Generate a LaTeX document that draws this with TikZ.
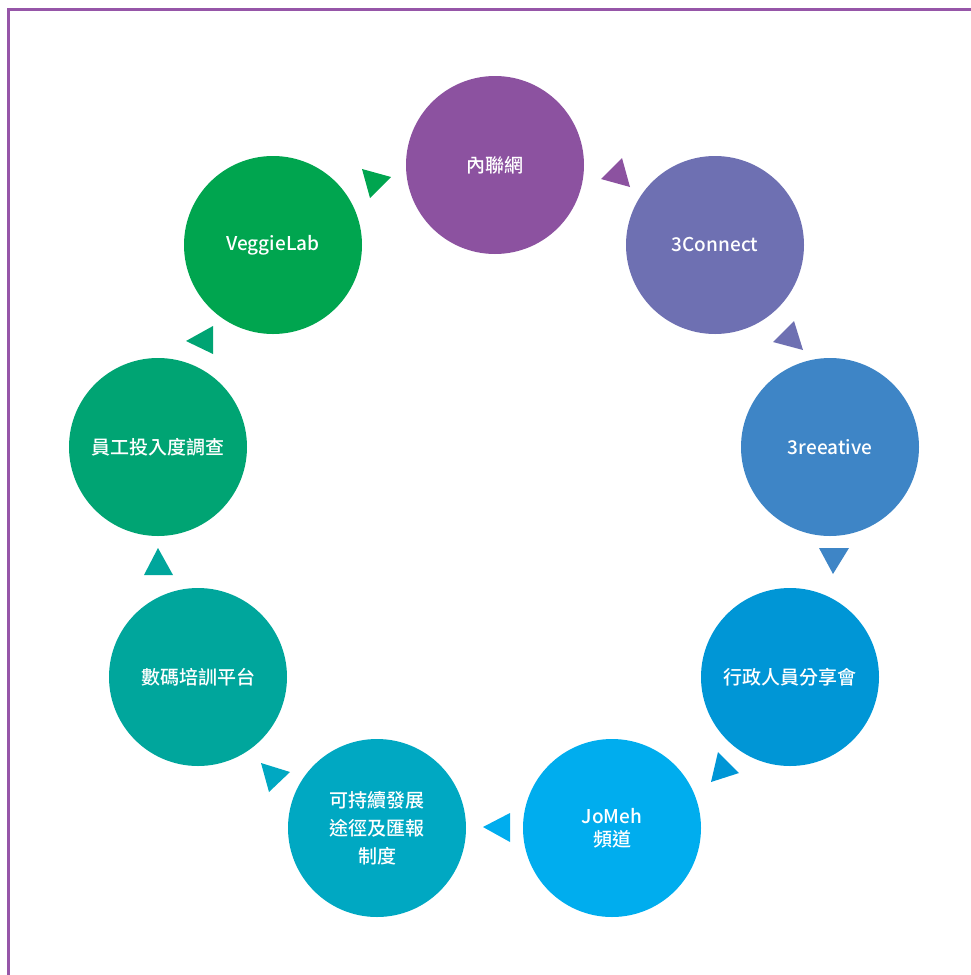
\documentclass[tikz,border=0pt]{standalone}
\usepackage{fontspec}
\setmainfont{Noto Sans CJK TC}[UprightFont={* Medium}]
\definecolor{frame}{HTML}{9656A8}
\definecolor{c1}{HTML}{8C52A0}
\definecolor{c2}{HTML}{6E70B2}
\definecolor{c3}{HTML}{3E85C6}
\definecolor{c4}{HTML}{0096D6}
\definecolor{c5}{HTML}{00ADEE}
\definecolor{c6}{HTML}{00A8C2}
\definecolor{c7}{HTML}{00A69C}
\definecolor{c8}{HTML}{00A473}
\definecolor{c9}{HTML}{00A54F}
\begin{document}
\begin{tikzpicture}[x=1pt,y=-1pt,
  stage/.style={circle, minimum size=178pt, inner sep=0pt, text=white,
    font=\fontsize{19}{28}\selectfont, align=center}]
\useasboundingbox (0,0) rectangle (971,975);
\draw[line width=3pt, color=frame] (8.5,990) -- (8.5,9.5) -- (990,9.5);

\node[stage, fill=c1] (n1) at (495,165) {內聯網};
\node[stage, fill=c2] (n2) at (715,245) {3Connect};
\node[stage, fill=c3] (n3) at (830,447) {3reeative};
\node[stage, fill=c4] (n4) at (790,677) {行政人員分享會};
\node[stage, fill=c5, font=\fontsize{19}{23}\selectfont] (n5) at (612,828) {JoMeh\\頻道};
\node[stage, fill=c6] (n6) at (377,828) {可持續發展\\途徑及匯報\\制度};
\node[stage, fill=c7] (n7) at (198,677) {數碼培訓平台};
\node[stage, fill=c8] (n8) at (158,447) {員工投入度調查};
\node[stage, fill=c9] (n9) at (273,245) {VeggieLab};

\fill[c1] (601,179) -- (622,158) -- (630,187) -- cycle;
\fill[c2] (773,342) -- (794,321) -- (803,350) -- cycle;
\fill[c3] (819,548) -- (849,548) -- (833,574) -- cycle;
\fill[c4] (718,752) -- (711,782) -- (739,773) -- cycle;
\fill[c5] (483,827) -- (510,813) -- (510,842) -- cycle;
\fill[c6] (261,763) -- (290,772) -- (269,792) -- cycle;
\fill[c7] (158,548) -- (144,575) -- (173,575) -- cycle;
\fill[c8] (186,341) -- (213,326) -- (213,354) -- cycle;
\fill[c9] (362,169) -- (391,177) -- (370,198) -- cycle;
\end{tikzpicture}
\end{document}
